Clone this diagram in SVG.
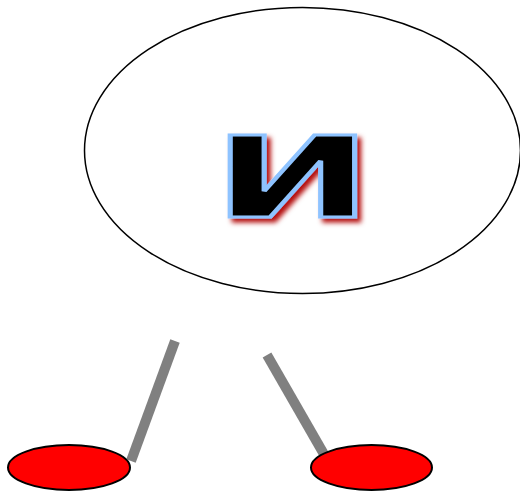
<svg xmlns="http://www.w3.org/2000/svg" width="520" height="494" viewBox="0 0 520 494">
<defs>
<filter id="sh" x="-20%" y="-20%" width="140%" height="140%">
<feDropShadow dx="4" dy="4" stdDeviation="2.5" flood-color="#b00000" flood-opacity="0.95"/>
</filter>
</defs>
<style>
.link{stroke:#808080;stroke-width:10;fill:none}
.leaf{fill:#ff0000;stroke:#000;stroke-width:2}
.big{fill:#fff;stroke:#000;stroke-width:1.5}
.lbl{font-family:"DejaVu Sans",sans-serif;font-weight:bold;font-size:112px;fill:#000;stroke:#8ec3ff;stroke-width:3;text-anchor:middle}
</style>
<g id="connectors">
<line class="link" x1="175" y1="341" x2="131" y2="461"/>
<line class="link" x1="267" y1="355" x2="325" y2="456"/>
</g>
<g id="root">
<ellipse class="big" cx="302.5" cy="150.5" rx="218" ry="143"/>
<g filter="url(#sh)">
<text class="lbl" transform="translate(292.5,217) scale(1.7,1)" x="0" y="0">И</text>
</g>
</g>
<g id="leaf1">
<ellipse class="leaf" cx="69" cy="467.5" rx="61" ry="22.5"/>
</g>
<g id="leaf2">
<ellipse class="leaf" cx="371.5" cy="467.5" rx="60.5" ry="22.5"/>
</g>
</svg>
